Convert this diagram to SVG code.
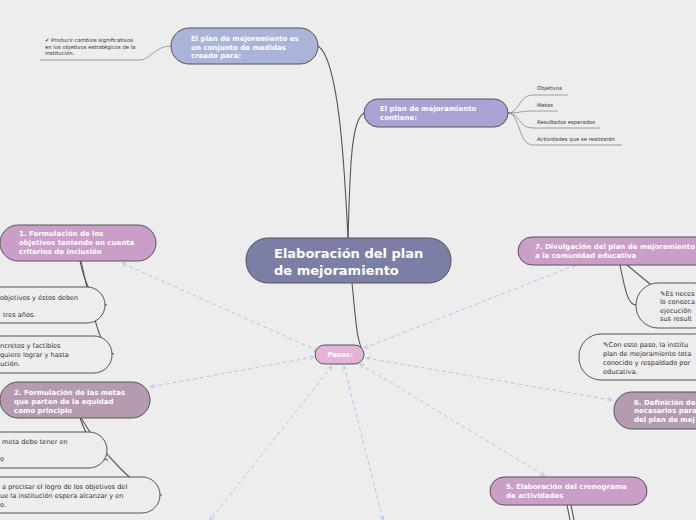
<svg xmlns="http://www.w3.org/2000/svg" width="696" height="520" viewBox="0 0 696 520">
<defs>
<style>
text{font-family:"DejaVu Sans","Liberation Sans",sans-serif;}
.nb{stroke:#555;stroke-width:1}
.w{fill:#fff;font-weight:bold;font-size:7px}
.t{fill:#333;font-size:6.6px}
.s{fill:#333;font-size:5.3px}
.note{fill:#ededed;stroke:#555;stroke-width:1}
.dash{stroke:#b9c4e2;stroke-width:1;stroke-dasharray:4 3;fill:none;marker-start:url(#a);marker-end:url(#a)}
.sol{stroke:#555;stroke-width:1.1;fill:none}
.thin{stroke:#888;stroke-width:0.8;fill:none}
</style>
<marker id="a" viewBox="0 0 8 8" refX="7" refY="4" markerWidth="6" markerHeight="6" orient="auto-start-reverse"><path d="M1,1 L7,4 L1,7" fill="none" stroke="#b9c4e2"/></marker>
</defs>
<rect width="696" height="520" fill="#ededed"/>
<g id="connectors">
<path class="dash" d="M318,351 L122,263"/>
<path class="dash" d="M314,357 L150,387"/>
<path class="dash" d="M364,348 L576,265"/>
<path class="dash" d="M366,358 L612,400"/>
<path class="dash" d="M360,364 L545,476"/>
<path class="dash" d="M332,366 L210,520"/>
<path class="dash" d="M344,366 L383,520"/>
<path class="sol" d="M348,238 C345,180 340,60 318,46"/>
<path class="sol" d="M348,238 C350,180 350,120 364,113"/>
<path class="sol" d="M352,283 C356,320 356,340 364,354"/>
<path class="thin" d="M171,46 C155,46 150,60 140,60 L40,60"/>
<path class="thin" d="M508,113 C520,113 518,95 533,95 L568,95"/>
<path class="thin" d="M508,113 C520,113 520,111 533,111 L558,111"/>
<path class="thin" d="M508,113 C520,113 518,128 533,128 L600,128"/>
<path class="thin" d="M508,113 C520,113 518,145 533,145 L622,145"/>
<path class="sol" d="M80,261 C85,285 95,305 107,305"/>
<path class="sol" d="M81,261 C90,300 100,354 114,354"/>
<path class="sol" d="M80,418 C88,440 100,460 108,460"/>
<path class="sol" d="M81,418 C100,450 140,495 162,495"/>
<path class="sol" d="M620,265 C625,290 628,305 636,305"/>
<path class="sol" d="M627,265 L696,322"/>
<path class="sol" d="M567,505 L570,520"/>
<path class="sol" d="M571,505 L574,520"/>
</g>
<g id="center"><rect class="nb" x="246" y="238" width="205" height="45" rx="22" fill="#7b7fa6"/>
<text x="274" y="258" fill="#fff" font-weight="bold" font-size="13">Elaboración del plan</text><text x="274" y="275" fill="#fff" font-weight="bold" font-size="13">de mejoramiento</text></g>
<g id="creado"><rect class="nb" x="171" y="28" width="147" height="36" rx="18" fill="#aab4d8"/>
<text class="w" x="191" y="41">El plan de mejoramiento es</text><text class="w" x="191" y="50">un conjunto de medidas</text><text class="w" x="191" y="58">creado para:</text></g>
<g id="producir"><text class="s" x="45" y="42">✔ Producir cambios significativos</text><text class="s" x="45" y="49">en los objetivos estratégicos de la</text><text class="s" x="45" y="55">institución.</text></g>
<g id="contiene"><rect class="nb" x="364" y="99" width="144" height="28" rx="14" fill="#a9a3d3"/>
<text class="w" x="380" y="111">El plan de mejoramiento</text><text class="w" x="380" y="120">contiene:</text></g>
<g id="items"><text class="s" x="537" y="90">Objetivos</text><text class="s" x="537" y="107">Metas</text><text class="s" x="537" y="124">Resultados esperados</text><text class="s" x="537" y="141">Actividades que se realizarán</text></g>
<g id="pasos"><rect class="nb" x="315" y="345" width="49" height="19" rx="9.5" fill="#e5b3d8"/>
<text class="w" x="340" y="357" text-anchor="middle">Pasos:</text></g>
<g id="p1"><rect class="nb" x="0" y="225" width="156" height="36" rx="18" fill="#cb9ec8"/>
<text class="w" x="19" y="236">1. Formulación de los</text><text class="w" x="19" y="245">objetivos teniendo en cuenta</text><text class="w" x="19" y="254">criterios de inclusión</text></g>
<g id="n1a"><rect class="note" x="-30" y="287" width="135" height="36" rx="18"/>
<text class="t" x="0" y="300">objetivos y éstos deben</text><text class="t" x="3" y="317">tres años.</text></g>
<g id="n1b"><rect class="note" x="-30" y="336" width="142" height="37" rx="18"/>
<text class="t" x="0" y="348">ncretos y factibles</text><text class="t" x="0" y="357">quiere lograr y hasta</text><text class="t" x="0" y="366">ución.</text></g>
<g id="p2"><rect class="nb" x="0" y="382" width="150" height="36" rx="18" fill="#b59bb0"/>
<text class="w" x="14" y="395">2. Formulación de las metas</text><text class="w" x="14" y="404">que parten de la equidad</text><text class="w" x="14" y="413">como principio</text></g>
<g id="n2a"><rect class="note" x="-30" y="432" width="137" height="36" rx="18"/>
<text class="t" x="2" y="444">meta debe tener en</text><text class="t" x="0" y="461">o</text></g>
<g id="n2b"><rect class="note" x="-30" y="477" width="190" height="36" rx="18"/>
<text class="t" x="2" y="489">a precisar el logro de los objetivos del</text><text class="t" x="0" y="498">ue la institución espera alcanzar y en</text><text class="t" x="0" y="507">o.</text></g>
<g id="p7"><rect class="nb" x="518" y="237" width="200" height="28" rx="14" fill="#cb9ec8"/>
<text class="w" x="535" y="249">7. Divulgación del plan de mejoramiento</text><text class="w" x="535" y="258">a la comunidad educativa</text></g>
<g id="n7a"><rect class="note" x="636" y="283" width="80" height="45" rx="22"/>
<text class="t" x="660" y="296">✎Es neces</text><text class="t" x="660" y="304">lo conozca</text><text class="t" x="660" y="313">ejecución</text><text class="t" x="660" y="321">sus result</text></g>
<g id="n7b"><rect class="note" x="579" y="334" width="140" height="46" rx="22"/>
<text class="t" x="603" y="347">✎Con este paso, la institu</text><text class="t" x="603" y="356">plan de mejoramiento tota</text><text class="t" x="603" y="365">conocido y respaldado por</text><text class="t" x="603" y="374">educativa.</text></g>
<g id="p6"><rect class="nb" x="614" y="392" width="100" height="37" rx="18" fill="#b59bb0"/>
<text class="w" x="634" y="405">6. Definición de</text><text class="w" x="634" y="413">necesarios para</text><text class="w" x="634" y="422">del plan de mej</text></g>
<g id="p5"><rect class="nb" x="490" y="477" width="157" height="28" rx="14" fill="#cb9ec8"/>
<text class="w" x="506" y="489">5. Elaboración del cronograma</text><text class="w" x="506" y="498">de actividades</text></g>
</svg>
